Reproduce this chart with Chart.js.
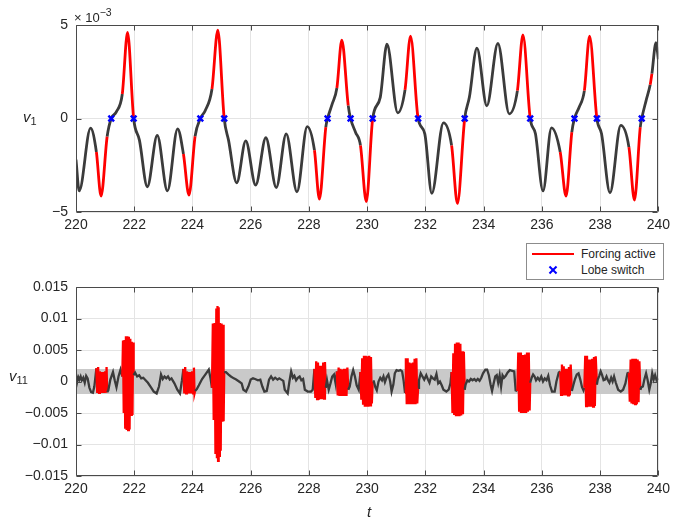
<!DOCTYPE html>
<html>
<head>
<meta charset="utf-8">
<script src="https://cdn.jsdelivr.net/npm/chart.js@4.4.1/dist/chart.umd.min.js"></script>
<style>
body { margin: 0; background: #fff; font-family: "Liberation Sans", Arial, Helvetica, sans-serif; color: #262626; }
#wrap { position: relative; width: 675px; height: 520px; overflow: hidden; }
.panel { position: absolute; left: 0; }
.lbl { position: absolute; white-space: nowrap; line-height: 1; font-size: 15px; }
.lbl i { font-style: italic; }
.lbl sub { font-size: 11px; vertical-align: -3px; }
#exp { left: 74px; top: 7px; font-size: 13px; }
#exp sup { font-size: 10.5px; vertical-align: 6px; }
#legend { position: absolute; left: 526px; top: 243px; width: 136px; height: 35px; border: 1px solid #8c8c8c; background: #fff; font-size: 12px; }
#legend .row { position: absolute; left: 54px; line-height: 1; }
#legend .line { position: absolute; left: 5px; top: 9px; width: 42px; height: 2px; background: #ff0000; }
#legend .xm { position: absolute; left: 22px; top: 22px; width: 8px; height: 8px; }
#legend .xm::before, #legend .xm::after { content: ""; position: absolute; left: -1px; top: 3px; width: 10px; height: 2px; background: #0000ff; }
#legend .xm::before { transform: rotate(45deg); }
#legend .xm::after { transform: rotate(-45deg); }
</style>
</head>
<body>
<div id="wrap">
  <div class="panel" style="top:0"><canvas id="chartTop" width="675" height="250"></canvas></div>
  <div class="panel" style="top:250px"><canvas id="chartBottom" width="675" height="270"></canvas></div>
  <div class="lbl" id="exp">× 10<sup>−3</sup></div>
  <div class="lbl" style="left:23px;top:109px"><i>v</i><sub>1</sub></div>
  <div class="lbl" style="left:9px;top:368px"><i>v</i><sub>11</sub></div>
  <div class="lbl" style="left:367px;top:504px"><i>t</i></div>
  <div id="legend">
    <div class="line"></div><div class="row" style="top:4px">Forcing active</div>
    <div class="xm"></div><div class="row" style="top:20px">Lobe switch</div>
  </div>
</div>
<script>
const xTicks = [220, 222, 224, 226, 228, 230, 232, 234, 236, 238, 240]
const yTicksTop = [-5, 0, 5]
const yLabelsTop = ['\u22125', '0', '5']
const yTicksBottom = [-15, -10, -5, 0, 5, 10, 15]   // x 10^-3
const yLabelsBottom = ['\u22120.015', '\u22120.01', '\u22120.005', '0', '0.005', '0.01', '0.015']
const band11 = [-2, 2]   // x 10^-3

// time windows where the forcing is on
const forcingStart = [220.70, 221.59, 223.69, 224.67, 228.19, 228.96, 229.77, 231.30, 232.90, 235.16, 236.63, 237.46, 238.99, 239.72]
const forcingEnd   = [221.07, 221.98, 224.09, 225.09, 228.58, 229.35, 230.19, 231.75, 233.35, 235.60, 237.03, 237.89, 239.38, 239.78]

const lobeSwitchT = [221.21, 221.98, 224.27, 225.09, 228.64, 229.43, 230.19, 231.75, 233.35, 235.60, 237.12, 237.89, 239.43]

// v1 (x 10^-3)
const t1 = [220.00, 220.11, 220.50, 220.70, 220.86, 221.07, 221.21, 221.38, 221.59, 221.77,
  221.98, 222.18, 222.45, 222.79, 223.14, 223.49, 223.69, 223.88, 224.09, 224.27,
  224.44, 224.67, 224.87, 225.09, 225.24, 225.52, 225.83, 226.17, 226.52, 226.88,
  227.22, 227.59, 227.94, 228.19, 228.36, 228.58, 228.64, 228.80, 228.96, 229.13,
  229.35, 229.43, 229.60, 229.77, 229.97, 230.19, 230.45, 230.68, 231.05, 231.30,
  231.49, 231.75, 231.98, 232.22, 232.62, 232.90, 233.10, 233.35, 233.51, 233.77,
  234.11, 234.49, 234.88, 235.16, 235.35, 235.60, 235.78, 236.04, 236.33, 236.63,
  236.83, 237.03, 237.12, 237.28, 237.46, 237.64, 237.89, 238.05, 238.34, 238.71,
  238.99, 239.18, 239.38, 239.43, 239.58, 239.72, 239.78, 239.92, 240.00]
const v1 = [-2.2, -3.87, -0.52, -1.79, -4.15, -0.96, 0, 0.34, 1.31, 4.6,
  0, -1.17, -3.65, -0.9, -3.87, -0.55, -1.9, -4.1, -0.95, 0,
  0.43, 1.58, 4.72, 0, -1.17, -3.44, -1.2, -3.56, -1.03, -3.69,
  -0.82, -3.92, -0.43, -1.7, -4.31, -0.46, 0, 0.78, 1.63, 4.19,
  0.69, 0, -0.73, -1.44, -4.45, 0, 1.13, 3.97, 0.3, 1.53,
  4.41, 0, -0.82, -4.0, -0.23, -1.44, -4.54, 0, 1.13, 3.76,
  0.68, 4.01, 0.25, 1.49, 4.47, 0, -0.82, -3.87, -0.5, -1.79,
  -4.15, -0.73, 0, 0.6, 1.49, 4.41, 0, -0.82, -3.97, -0.37,
  -1.53, -4.36, -0.46, 0, 0.96, 1.8, 2.4, 4.06, 3.17]

// v11 (x 10^-3), one line per stretch
const t11 = [
  220.00, 220.04, 220.08, 220.12, 220.16, 220.20, 220.25, 220.30, 220.35, 220.40, 220.46, 220.52, 220.58, 220.63,
  220.70, 220.73, 220.76, 220.79, 220.82, 220.85, 220.88, 220.91, 220.94, 220.97, 221.00, 221.03, 221.05, 221.07,
  221.11, 221.18, 221.27, 221.33, 221.39, 221.46, 221.53,
  221.59, 221.615, 221.64, 221.665, 221.69, 221.715, 221.74, 221.765, 221.79, 221.815, 221.84, 221.865, 221.89, 221.915, 221.94, 221.96, 221.98,
  222.03, 222.10, 222.17, 222.24, 222.31, 222.39, 222.47, 222.57, 222.67, 222.77, 222.85, 222.92, 222.98, 223.04, 223.10, 223.16, 223.22, 223.28, 223.38, 223.48, 223.57, 223.64,
  223.69, 223.72, 223.75, 223.78, 223.81, 223.84, 223.87, 223.90, 223.93, 223.96, 223.99, 224.02, 224.05, 224.07, 224.09,
  224.15, 224.22, 224.33, 224.44, 224.56, 224.62,
  224.67, 224.70, 224.73, 224.76, 224.79, 224.82, 224.84, 224.86, 224.88, 224.90, 224.92, 224.94, 224.97, 225.00, 225.03, 225.05, 225.07, 225.09,
  225.15, 225.24, 225.32, 225.42, 225.50, 225.60, 225.69, 225.75, 225.84, 225.92, 226.00, 226.08, 226.15, 226.25, 226.33, 226.40, 226.47, 226.55, 226.63, 226.70,
  226.77, 226.84, 226.92, 226.98, 227.05, 227.12, 227.17, 227.27, 227.33, 227.39, 227.45, 227.50, 227.56, 227.62, 227.68, 227.74, 227.80, 227.86, 227.96, 228.07, 228.13,
  228.19, 228.22, 228.25, 228.28, 228.31, 228.34, 228.37, 228.40, 228.43, 228.46, 228.49, 228.52, 228.55, 228.58,
  228.62, 228.68, 228.74, 228.80, 228.86, 228.92,
  228.96, 228.99, 229.02, 229.05, 229.08, 229.11, 229.14, 229.17, 229.20, 229.23, 229.26, 229.29, 229.32, 229.35,
  229.40, 229.46, 229.52, 229.58, 229.64, 229.71,
  229.77, 229.80, 229.83, 229.86, 229.89, 229.92, 229.95, 229.98, 230.01, 230.04, 230.07, 230.10, 230.13, 230.16, 230.19,
  230.23, 230.28, 230.33, 230.39, 230.45, 230.51, 230.56, 230.61, 230.67, 230.73, 230.79, 230.84, 230.90, 230.95, 231.01, 231.08, 231.14, 231.20, 231.25,
  231.30, 231.33, 231.36, 231.39, 231.42, 231.45, 231.48, 231.51, 231.54, 231.57, 231.60, 231.63, 231.66, 231.69, 231.72, 231.75,
  231.78, 231.84, 231.90, 231.96, 232.03, 232.09, 232.14, 232.20, 232.26, 232.32, 232.38, 232.44, 232.50, 232.56, 232.62, 232.72, 232.80, 232.86,
  232.90, 232.93, 232.96, 232.99, 233.02, 233.05, 233.08, 233.11, 233.14, 233.17, 233.20, 233.23, 233.26, 233.29, 233.32, 233.35,
  233.38, 233.44, 233.50, 233.56, 233.62, 233.68, 233.74, 233.80, 233.86, 233.92, 233.98, 234.06, 234.12, 234.18, 234.24,
  234.29, 234.34, 234.40, 234.45, 234.50, 234.55, 234.60, 234.65, 234.70, 234.76, 234.82, 234.90, 234.98, 235.05, 235.10,
  235.16, 235.19, 235.22, 235.25, 235.28, 235.31, 235.34, 235.37, 235.40, 235.43, 235.46, 235.49, 235.52, 235.55, 235.58, 235.60,
  235.65, 235.70, 235.75, 235.80, 235.86, 235.92, 235.98, 236.04, 236.10, 236.16, 236.22, 236.28, 236.35, 236.44, 236.50, 236.58,
  236.63, 236.66, 236.69, 236.72, 236.75, 236.78, 236.81, 236.84, 236.87, 236.90, 236.93, 236.96, 236.99, 237.03,
  237.08, 237.14, 237.20, 237.26, 237.32, 237.38, 237.43,
  237.46, 237.49, 237.52, 237.55, 237.58, 237.61, 237.64, 237.67, 237.70, 237.73, 237.76, 237.79, 237.82, 237.85, 237.89,
  237.92, 237.97, 238.02, 238.07, 238.12, 238.17, 238.22, 238.27, 238.32, 238.38, 238.43, 238.48, 238.54, 238.62, 238.71, 238.79, 238.87, 238.94,
  238.99, 239.02, 239.05, 239.08, 239.11, 239.14, 239.17, 239.20, 239.23, 239.26, 239.29, 239.32, 239.35, 239.38,
  239.42, 239.47, 239.52, 239.58, 239.63, 239.69, 239.74, 239.79, 239.84, 239.89, 239.94, 240.00]
const v11 = [
  0.9, -0.1, 0.7, 0.3, 0.8, 0.2, 0.6, -0.2, 0.9, 0.5, -1.0, -1.7, -1.8, -0.8,
  2.1, -1.8, 2.3, -1.8, 1.6, -1.8, 1.5, -1.8, 1.5, -1.8, 1.6, -1.8, 2.3, -1.7,
  -1.4, 0.3, 1.5, 0.2, -0.9, 0.8, 1.9,
  0.8, 6.5, -5.0, 6.6, -7.3, 7.2, -7.7, 7.2, -7.7, 7.1, -7.6, 6.8, -5.3, 6.3, -5.3, 6.2, 1.0,
  1.4, 0.8, 1.0, 0.5, 0.6, 0.2, -0.2, -0.9, -1.6, -1.9, -0.8, 1.1, 0.4, 0.8, 0.5, 0.8, 0.3, 0.5, -0.3, -1.3, -1.9, 0.2,
  2.0, -1.9, 2.3, -1.9, 1.6, -1.9, 1.5, -1.9, 1.5, -1.9, 1.6, -1.9, 2.2, -1.9, -1.5,
  -1.2, -0.6, 0.4, 1.1, 1.9, 0.5,
  -1.0, 9.2, -6.1, 9.3, -11.5, 11.6, -12.2, 12.0, -12.6, 11.8, -11.8, 9.3, -11.0, 9.2, -6.4, 9.0, -6.3, 1.5,
  1.5, 1.1, 0.8, 0.5, 0.3, 0.0, -0.3, -1.3, -1.6, -0.8, 0.3, 0.5, 0.4, 0.2, 0.3, -0.8, -1.6, -1.5, 0.3, 0.8,
  0.3, 0.6, 0.3, 0.5, 0.3, 0.1, -1.3, -1.9, 0.0, 1.6, 0.6, 0.9, 0.2, 0.6, 0.8, 0.2, 0.4, -1.3, -1.6, -1.6, -1.3,
  2.0, -2.6, 3.2, -2.8, 3.0, -2.9, 2.5, -2.8, 2.5, -2.8, 3.0, -2.7, 3.1, -1.0,
  0.2, -1.3, -0.3, 0.8, 1.1, -0.4,
  1.6, -2.2, 2.2, -2.3, 2.0, -2.3, 1.9, -2.3, 2.0, -2.3, 2.0, -2.3, 2.2, -1.3,
  -0.8, 0.8, 1.8, 0.8, -0.6, -1.3,
  1.5, -2.9, 3.7, -3.5, 4.1, -4.0, 4.1, -4.0, 4.0, -4.0, 4.1, -3.8, 3.9, -3.5, 0.0,
  0.0, -0.9, -1.4, 0.0, 0.6, 0.2, 0.8, -0.1, 0.7, 1.1, 0.0, -1.6, -0.5, 1.3, 1.8, 1.7, 1.8, 1.6, 0.2,
  -1.8, 3.7, -3.6, 3.7, -3.6, 3.0, -3.6, 2.9, -3.6, 3.0, -3.6, 3.6, -3.6, 3.7, -3.5, -1.0,
  0.2, 1.3, 0.8, 0.3, 1.0, 0.3, -0.2, 0.8, 0.5, 0.3, 1.2, -0.3, 0.0, -0.6, -1.3, -1.6, -1.3, -0.3,
  1.5, -5.0, 4.5, -5.3, 6.0, -5.5, 6.2, -5.5, 6.2, -5.5, 6.0, -5.4, 4.8, -5.2, 4.7, -1.3,
  -0.5, 0.2, 0.0, 0.4, 0.2, 0.4, 0.1, 0.4, 0.1, 0.6, 1.3, 1.9, 1.9, 1.0, -0.5,
  -1.5, -0.4, 0.8, 1.0, -0.2, 1.0, -0.8, 1.0, 0.6, 0.9, 1.4, 1.8, 1.7, 1.6, -1.4,
  -1.5, 4.6, -4.8, 4.6, -5.0, 4.2, -5.0, 4.2, -5.0, 4.3, -5.0, 4.6, -4.8, 4.6, -4.6, -0.2,
  0.6, 1.1, 0.8, 0.2, 0.6, 0.2, 0.8, 0.0, 0.5, 0.2, 0.9, -0.6, -1.6, -1.6, 0.0, 1.4,
  1.6, -2.1, 2.7, -2.2, 2.4, -2.2, 2.0, -2.2, 2.0, -2.2, 2.3, -2.2, 2.7, -1.5,
  -0.6, 0.4, 1.1, 1.3, 0.3, -0.9, -1.4,
  -1.0, 4.1, -3.9, 4.1, -4.0, 3.5, -4.0, 3.5, -4.0, 3.6, -4.0, 3.9, -3.9, 4.0, -0.5,
  0.3, 0.9, 1.6, 1.0, 0.2, 0.3, 0.8, 0.2, -0.2, 0.6, 0.0, 0.8, -0.2, -1.3, -1.6, -1.3, -0.3, 1.3,
  1.4, -3.2, 3.5, -3.5, 3.6, -3.6, 3.6, -3.6, 3.6, -3.6, 3.5, -3.3, 3.2, -1.3,
  -0.9, -0.8, 0.3, 1.3, 0.3, -1.3, -0.3, 1.3, 0.3, 1.0, 0.2, 0.5]

const DARK = '#3b3b3b'
const RED = '#ff0000'
const BLUE = '#0000ff'
const GRID = '#e4e4e4'
const TEXT = '#262626'
const tickFont = { family: '"Liberation Sans", Arial, Helvetica, sans-serif', size: 14 }

function isForced(a, b) {
  for (let i = 0; i < forcingStart.length; i++) {
    if (a >= forcingStart[i] - 1e-6 && b <= forcingEnd[i] + 1e-6) return true
  }
  return false
}

const segColor = c => isForced(c.p0.parsed.x, c.p1.parsed.x) ? RED : DARK

// axes box with inward ticks, like the original figure
const boxPlugin = {
  id: 'box',
  afterDraw(chart) {
    const { ctx, chartArea: a, scales } = chart
    const l = Math.round(a.left) + 0.5, r = Math.round(a.right) - 0.5
    const t = Math.round(a.top) + 0.5, b = Math.round(a.bottom) - 0.5
    ctx.save()
    ctx.strokeStyle = '#4a4a4a'
    ctx.lineWidth = 1
    ctx.beginPath()
    ctx.rect(l, t, r - l, b - t)
    scales.x.ticks.forEach(tk => {
      const x = Math.round(scales.x.getPixelForValue(tk.value)) + 0.5
      ctx.moveTo(x, b); ctx.lineTo(x, b - 5)
      ctx.moveTo(x, t); ctx.lineTo(x, t + 5)
    })
    scales.y.ticks.forEach(tk => {
      const y = Math.round(scales.y.getPixelForValue(tk.value)) + 0.5
      ctx.moveTo(l, y); ctx.lineTo(l + 5, y)
      ctx.moveTo(r, y); ctx.lineTo(r - 5, y)
    })
    ctx.stroke()
    ctx.restore()
  }
}

function makeOptions(yTicks, yLabels, padTop, xHeight) {
  return {
    responsive: false,
    animation: false,
    events: [],
    layout: { padding: { top: padTop, right: 11, left: 0, bottom: 0 } },
    plugins: { legend: { display: false }, tooltip: { enabled: false } },
    scales: {
      x: {
        type: 'linear',
        min: xTicks[0],
        max: xTicks[xTicks.length - 1],
        afterBuildTicks: s => { s.ticks = xTicks.map(v => ({ value: v })) },
        afterFit: s => { s.height = xHeight },
        grid: { color: GRID, drawTicks: false },
        border: { display: false },
        ticks: { padding: 5, font: tickFont, color: TEXT, maxRotation: 0, autoSkip: false, callback: v => String(v) }
      },
      y: {
        min: yTicks[0],
        max: yTicks[yTicks.length - 1],
        afterBuildTicks: s => { s.ticks = yTicks.map(v => ({ value: v })) },
        afterFit: s => { s.width = 76 },
        grid: { color: GRID, drawTicks: false },
        border: { display: false },
        ticks: { padding: 8, font: tickFont, color: TEXT, autoSkip: false, callback: (v, i) => yLabels[i] }
      }
    }
  }
}

new Chart(document.getElementById('chartTop'), {
  type: 'line',
  data: {
    datasets: [
      {
        data: lobeSwitchT.map(t => ({ x: t, y: 0 })),
        showLine: false,
        pointStyle: 'crossRot',
        pointRadius: 4,
        pointBorderWidth: 2.5,
        pointBorderColor: BLUE,
        borderColor: BLUE,
        order: 0
      },
      {
        data: t1.map((t, i) => ({ x: t, y: v1[i] })),
        borderColor: DARK,
        borderWidth: 2.8,
        pointRadius: 0,
        cubicInterpolationMode: 'monotone',
        segment: { borderColor: segColor },
        order: 1
      }
    ]
  },
  options: makeOptions(yTicksTop, yLabelsTop, 25, 38),
  plugins: [boxPlugin]
})

new Chart(document.getElementById('chartBottom'), {
  type: 'line',
  data: {
    datasets: [
      {
        data: t11.map((t, i) => ({ x: t, y: v11[i] })),
        borderColor: DARK,
        borderWidth: 2.3,
        pointRadius: 0,
        tension: 0,
        segment: { borderColor: segColor },
        order: 1
      },
      {
        data: [{ x: xTicks[0], y: band11[1] }, { x: xTicks[xTicks.length - 1], y: band11[1] }],
        borderWidth: 0,
        pointRadius: 0,
        backgroundColor: '#c9c9c9',
        fill: { value: band11[0] },
        order: 5
      }
    ]
  },
  options: makeOptions(yTicksBottom, yLabelsBottom, 37, 44),
  plugins: [boxPlugin]
})
</script>
</body>
</html>
